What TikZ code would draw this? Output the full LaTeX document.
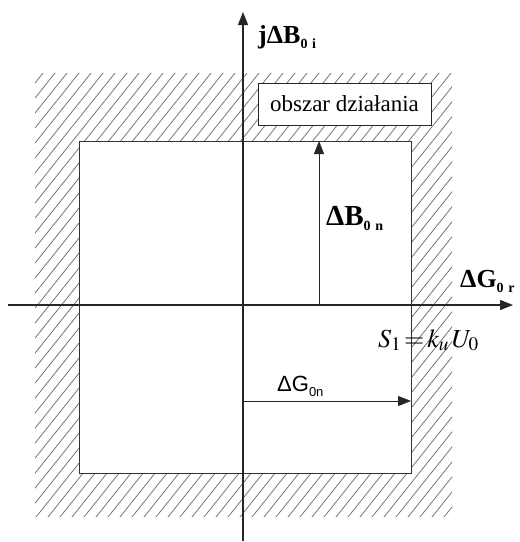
\documentclass[tikz,border=0pt]{standalone}
\usepackage{mathptmx}
\usepackage{fontspec}
\setmainfont{Liberation Serif}
\newfontfamily\arialfont{Liberation Sans}
\usetikzlibrary{arrows.meta, positioning}
\newcommand{\lowidx}[1]{\raisebox{-0.45ex}{\fontsize{14}{14}\selectfont #1}}

\begin{document}
\begin{tikzpicture}[x=1pt, y=-1pt,
    axis/.style={line width=1.1pt, draw=black!85},
    vec/.style={line width=1pt, draw=black!85, -{Triangle[length=13pt, width=10pt]}},
    hatchline/.style={line width=0.7pt, draw=black!60},
    biglabel/.style={anchor=base west, inner sep=0pt, font=\fontsize{26}{26}\selectfont\bfseries}]
    \useasboundingbox (0,0) rectangle (520,542);

    % Hatched working region
    \begin{scope}
        \clip (35,73) rectangle (452,517);
        \foreach \i in {-360,-348,...,460}
            \draw[hatchline] (\i,517) -- (\i+355,73);
    \end{scope}

    % Inner square
    \draw[line width=1pt, draw=black!80, fill=white] (79,141) rectangle (411,473);

    % Label box
    \node[draw=black!85, fill=white, line width=0.9pt, minimum width=173pt, minimum height=42pt,
          inner sep=2pt, font=\fontsize{23}{26}\selectfont] (area) at (344.5,104) {obszar działania};

    % Axes
    \coordinate (xleft) at (8,305);
    \coordinate (xright) at (513,305);
    \coordinate (ybot) at (243,541);
    \coordinate (ytop) at (243,12);
    \draw[axis, -{Triangle[length=13pt, width=10pt]}] (xleft) -- (xright);
    \draw[axis, -{Triangle[length=13pt, width=10pt]}] (ybot) -- (ytop);

    % Vectors
    \coordinate (bfoot) at (319,305);
    \coordinate (bhead) at (319,141);
    \coordinate (gfoot) at (243,401);
    \coordinate (ghead) at (411,401);
    \draw[vec] (bfoot) -- (bhead);
    \draw[vec] (gfoot) -- (ghead);

    % Labels
    \node[biglabel] (jb) at (258,43) {jΔB\lowidx{0\,\,i}};
    \node[biglabel, font=\fontsize{29}{29}\selectfont\bfseries] (dbn) at (326,225) {ΔB\lowidx{0\,\,n}};
    \node[biglabel] (dgr) at (460,287) {ΔG\lowidx{0\,\,r}};
    \node[anchor=base west, inner sep=0pt, font=\fontsize{26}{26}\selectfont] (s1) at (378,347) {$S_1\!=\!k_u\,U_0$};
    \node[anchor=base west, inner sep=0pt, font=\fontsize{22}{22}\selectfont\arialfont] (dgn) at (277,391)
        {ΔG\raisebox{-0.5ex}{\fontsize{13}{13}\selectfont 0n}};
\end{tikzpicture}
\end{document}
